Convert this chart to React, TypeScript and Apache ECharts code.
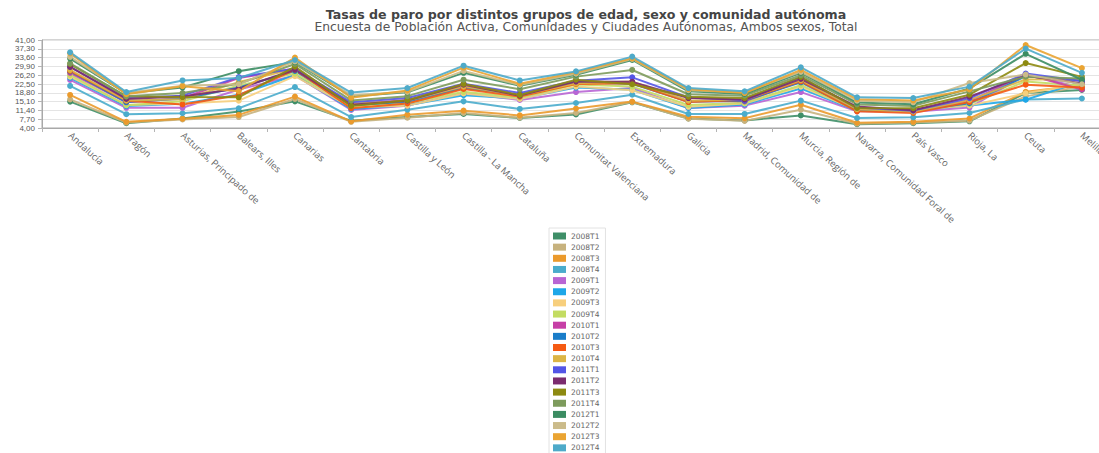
import React, { useEffect, useRef } from "react";
import * as echarts from "echarts";

const regions = [
  "Andalucía", "Aragón", "Asturias, Principado de", "Balears, Illes", "Canarias", "Cantabria",
  "Castilla y León", "Castilla - La Mancha", "Cataluña", "Comunitat Valenciana", "Extremadura",
  "Galicia", "Madrid, Comunidad de", "Murcia, Región de", "Navarra, Comunidad Foral de",
  "País Vasco", "Rioja, La", "Ceuta", "Melilla",
];

const quarters = [
  "2008T1", "2008T2", "2008T3", "2008T4", "2009T1", "2009T2", "2009T3", "2009T4",
  "2010T1", "2010T2", "2010T3", "2010T4", "2011T1", "2011T2", "2011T3", "2011T4",
  "2012T1", "2012T2", "2012T3", "2012T4",
];

const colors = [
  "#3f8f68", "#c7b27e", "#eb9a2c", "#4aaccc", "#b865d4", "#1ea7e8", "#f7cf7d", "#c3dc62",
  "#c63fa6", "#1a7dc9", "#f55a13", "#dcb545", "#5355e6", "#7b2c6e", "#8d8a11", "#7d9b5c",
  "#3b8c62", "#cbbb8a", "#eaa432", "#4eaac9",
];

// values per region, one per quarter (2008T1 ... 2012T4)
const andalucia = [15.1, 16.0, 17.9, 21.7, 24.2, 25.1, 25.6, 26.3, 27.2, 27.8, 28.0, 28.4, 29.7, 29.7, 30.9, 31.2, 33.2, 33.9, 35.4, 35.8];
const aragon = [6.0, 6.3, 6.6, 9.8, 12.5, 13.2, 13.7, 13.6, 14.8, 14.9, 15.5, 15.6, 16.6, 16.2, 17.3, 17.3, 18.6, 18.7, 18.2, 19.1];
const asturias = [8.0, 7.6, 7.9, 10.2, 12.5, 14.2, 14.3, 15.2, 16.5, 16.3, 13.9, 16.1, 17.6, 17.2, 17.0, 18.7, 21.0, 21.8, 21.6, 24.0];
const baleares = [10.9, 8.6, 9.5, 12.3, 20.2, 18.0, 15.5, 21.9, 25.0, 21.0, 17.8, 23.3, 25.4, 20.6, 16.9, 22.6, 27.9, 22.4, 19.5, 25.0];
const canarias = [15.2, 16.2, 17.2, 21.2, 26.1, 26.2, 25.8, 26.9, 29.0, 28.0, 28.5, 28.9, 28.9, 28.5, 29.8, 30.9, 31.7, 32.0, 33.6, 32.6];
const cantabria = [7.0, 6.6, 6.8, 8.6, 11.6, 12.0, 12.7, 13.5, 14.0, 13.6, 12.3, 14.2, 14.8, 13.8, 13.3, 15.6, 17.4, 17.8, 16.7, 18.9];
const castillaLeon = [8.6, 8.3, 9.6, 11.7, 13.4, 13.6, 13.4, 14.4, 15.8, 15.0, 14.3, 15.5, 16.6, 15.5, 15.7, 17.4, 19.0, 19.2, 19.8, 20.8];
const castillaMancha = [9.9, 10.3, 11.3, 15.2, 18.6, 17.8, 18.5, 19.2, 21.2, 20.7, 20.4, 21.4, 22.6, 22.2, 22.5, 24.3, 27.2, 28.0, 29.4, 30.2];
const cataluna = [8.2, 8.3, 9.3, 12.0, 15.8, 16.4, 16.2, 16.8, 17.9, 17.9, 17.2, 17.8, 18.7, 17.6, 17.9, 20.3, 21.8, 22.1, 22.6, 24.0];
const valenciana = [9.7, 10.3, 12.2, 14.5, 19.1, 21.0, 21.4, 22.3, 23.0, 23.2, 22.5, 22.8, 23.9, 23.5, 24.3, 25.6, 26.4, 26.8, 27.4, 27.8];
const extremadura = [14.8, 14.9, 15.1, 18.0, 20.8, 20.1, 19.9, 21.4, 23.2, 22.6, 22.8, 23.5, 25.3, 23.4, 22.4, 28.4, 32.6, 33.0, 33.3, 34.0];
const galicia = [8.0, 7.9, 8.7, 9.9, 12.4, 12.4, 12.9, 13.7, 15.3, 15.0, 14.9, 15.5, 16.8, 16.6, 17.1, 18.2, 19.4, 19.9, 20.3, 20.8];
const madrid = [7.2, 7.0, 8.1, 9.9, 13.4, 13.9, 14.3, 14.6, 15.2, 15.5, 15.8, 16.0, 15.7, 16.0, 16.6, 17.6, 18.3, 19.0, 18.7, 19.4];
const murcia = [9.3, 11.7, 13.8, 15.5, 19.1, 20.6, 21.4, 22.0, 23.6, 23.2, 23.6, 24.1, 25.3, 24.6, 25.5, 26.2, 27.2, 27.6, 28.4, 29.5];
const navarra = [5.6, 5.8, 6.2, 8.2, 11.0, 11.3, 11.5, 11.7, 12.1, 11.5, 11.0, 11.9, 12.6, 13.0, 12.4, 13.9, 14.7, 15.5, 16.1, 16.9];
const paisVasco = [6.0, 6.3, 6.6, 8.5, 10.8, 11.6, 11.9, 12.0, 11.6, 11.2, 10.3, 10.9, 11.3, 11.5, 12.3, 13.3, 14.0, 14.8, 15.6, 16.6];
const rioja = [6.8, 7.1, 8.0, 10.3, 12.6, 13.5, 13.4, 14.1, 15.2, 14.4, 14.9, 15.8, 16.5, 17.2, 18.0, 19.4, 20.6, 22.9, 20.2, 21.4];
const ceuta = [18.7, 17.3, 19.2, 16.0, 26.3, 15.9, 18.6, 23.6, 26.6, 25.8, 22.2, 24.4, 26.9, 26.0, 31.3, 25.6, 35.2, 26.5, 38.9, 37.4];
const melilla = [20.0, 21.5, 22.0, 16.4, 21.0, 23.5, 22.6, 21.8, 20.2, 24.0, 21.0, 24.5, 23.8, 22.8, 25.5, 24.8, 24.3, 22.4, 29.2, 27.2];

const regionValues = [
  andalucia, aragon, asturias, baleares, canarias, cantabria, castillaLeon, castillaMancha,
  cataluna, valenciana, extremadura, galicia, madrid, murcia, navarra, paisVasco, rioja, ceuta, melilla,
];

const yTicks = { min: 4, max: 41, interval: 3.7 };

export default function App() {
  const ref = useRef<HTMLDivElement>(null);
  useEffect(() => {
    if (!ref.current) return;
    const chart = echarts.init(ref.current, undefined, { renderer: "svg" });
    const series = quarters.map((q, qi) => ({
      name: q,
      type: "line",
      data: regionValues.map((r) => r[qi]),
      symbol: "circle",
      symbolSize: 6,
      itemStyle: { color: colors[qi] },
      lineStyle: { width: 2, color: colors[qi], opacity: 0.9 },
      emphasis: { disabled: true },
    }));
    chart.setOption({
      animation: false,
      title: {
        text: "Tasas de paro por distintos grupos de edad, sexo y comunidad autónoma",
        subtext: "Encuesta de Población Activa, Comunidades y Ciudades Autónomas, Ambos sexos, Total",
        left: "center",
        top: 3,
        itemGap: 0,
        textStyle: { fontSize: 12.6, fontWeight: "bold", color: "#444", fontFamily: "DejaVu Sans" },
        subtextStyle: { fontSize: 12.3, color: "#555", fontFamily: "DejaVu Sans" },
      },
      legend: {
        orient: "vertical",
        left: 549,
        top: 228,
        padding: [4, 6, 4, 4],
        icon: "rect",
        itemWidth: 13,
        itemHeight: 7,
        itemGap: 3.15,
        selectedMode: false,
        borderColor: "#e2e2e2",
        borderWidth: 1,
        textStyle: { fontSize: 7.5, lineHeight: 8, color: "#666", fontFamily: "DejaVu Sans" },
        data: quarters,
      },
      grid: {
        left: 42, top: 40, width: 1068, height: 88,
        show: true, borderColor: "#a8a8a8", borderWidth: 1, containLabel: false,
      },
      xAxis: {
        type: "category",
        data: regions,
        boundaryGap: true,
        axisLine: { show: true, lineStyle: { color: "#a8a8a8" } },
        axisTick: { show: true, length: 4, lineStyle: { color: "#b5b5b5" } },
        axisLabel: {
          show: true,
          interval: 0,
          rotate: -42,
          margin: 6,
          fontSize: 9.5,
          color: "#666",
          fontFamily: "Open Sans",
        },
      },
      yAxis: {
        type: "value",
        min: yTicks.min,
        max: yTicks.max,
        interval: yTicks.interval,
        axisLine: { show: true, lineStyle: { color: "#a8a8a8" } },
        axisTick: { show: true, length: 4, lineStyle: { color: "#b5b5b5" } },
        axisLabel: {
          fontSize: 8,
          color: "#555",
          margin: 7,
          fontFamily: "Liberation Sans",
          formatter: (v: number) => v.toFixed(2).replace(".", ","),
        },
        splitLine: { show: true, lineStyle: { color: "#e4e4e4" } },
      },
      series,
    });
    return () => chart.dispose();
  }, []);
  return (
    <div
      ref={ref}
      style={{ position: "fixed", left: 0, top: 0, width: 1172, height: 480, background: "#fff" }}
    />
  );
}
